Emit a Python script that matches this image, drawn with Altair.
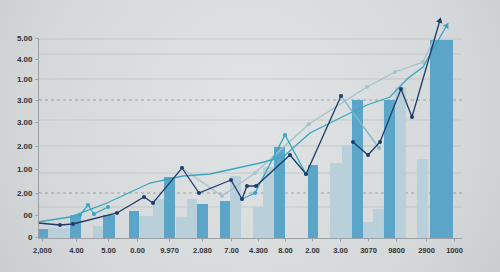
import json
import altair as alt
import pandas as pd

# ---------------- data ----------------
# x unit: 0..100 across the plot, y unit: 0..10
x_tick_pos = [0.94, 8.96, 16.51, 23.35, 30.9, 38.68, 45.52, 51.89, 58.25, 64.62, 71.23, 77.83, 84.43, 91.51, 98.11]
x_tick_lab = ["2,000", "4.00", "5.00", "0.00", "9.970", "2.080", "7.00", "4.300", "8.00", "2.00", "3.00", "3070", "9800", "2900", "1000"]

y_tick_pos = [0.05, 1.15, 2.25, 3.45, 4.6, 5.8, 6.9, 7.95, 8.95, 10.0]
y_tick_lab = ["0", "00", "2.00", "1.00", "2.00", "3.00", "3.00", "1.00", "4.00", "5.00"]

grid_solid = [9.95, 9.2, 7.95, 5.9, 4.6, 3.25, 1.55]
grid_dashed = [6.9, 2.25]

bar_x0 = [0.24, 2.36, 7.55, 12.97, 15.33, 21.46, 23.82, 27.12, 29.72, 32.55, 35.14, 37.5, 42.92, 45.28,
          50.71, 53.07, 55.66, 63.68, 68.87, 71.7, 74.06, 76.65, 79.01, 81.6, 84.2, 89.39, 92.45]
bar_x1 = [2.36, 7.55, 10.14, 15.33, 18.16, 23.82, 27.12, 29.72, 32.31, 35.14, 37.5, 40.09, 45.28, 47.88,
          53.07, 55.66, 58.25, 66.04, 71.7, 74.06, 76.65, 79.01, 81.6, 84.2, 86.79, 91.98, 97.88]
bar_val = [0.45, 0.5, 1.15, 0.6, 1.15, 1.35, 1.1, 1.95, 3.05, 1.05, 1.95, 1.7, 1.85, 3.1,
           1.55, 3.55, 4.55, 3.65, 3.75, 4.65, 6.9, 0.8, 1.45, 6.9, 7.55, 3.95, 9.9]
bar_kind = ["D", "L", "D", "L", "D", "D", "L", "L", "D", "L", "L", "D", "D", "L",
            "L", "L", "D", "D", "L", "L", "D", "L", "L", "D", "L", "L", "D"]

navy_x = [0, 5.19, 8.25, 18.63, 25.0, 27.12, 33.96, 37.97, 45.52, 48.11, 49.29, 51.42, 59.43, 63.21, 71.46,
          74.29, 77.83, 80.66, 85.61, 88.21, 94.81]
navy_y = [0.75, 0.65, 0.7, 1.25, 2.05, 1.75, 3.5, 2.25, 2.9, 1.95, 2.6, 2.6, 4.15, 3.2, 7.1,
          4.8, 4.15, 4.8, 7.45, 6.05, 10.9]
navy_seg = [1] * 15 + [2] * 6

zig_x = [9.91, 11.79, 13.21, 16.51, 48.11, 51.18, 58.25, 63.21]
zig_y = [1.15, 1.65, 1.2, 1.55, 1.95, 2.25, 5.15, 3.2]
zig_seg = [1, 1, 1, 1, 2, 2, 2, 2]

fade_x = [71.46, 80.42]
fade_y = [7.1, 4.5]

gray_x = [33.96, 43.4, 51.18, 63.92, 77.59, 84.2, 90.8, 93.87]
gray_y = [3.5, 2.1, 3.25, 5.7, 7.55, 8.3, 8.8, 10.15]

smooth_x = [0, 7.55, 16.27, 26.42, 34.2, 40.57, 52.36, 57.78, 64.15, 71.23, 77.59, 83.02, 87.03, 90.8, 96.46]
smooth_y = [0.8, 1.05, 1.75, 2.75, 3.1, 3.2, 3.75, 4.05, 5.25, 6.0, 6.65, 7.05, 7.95, 8.55, 10.65]

arrow_series = ["navy", "smooth"]
arrow_angle = [16, 30]

# ---------------- tables ----------------
bars = pd.DataFrame({"x0": bar_x0, "x1": bar_x1, "v": bar_val, "kind": bar_kind})
bars["ord"] = bars["kind"].map({"L": 0, "D": 1})


def series(name, xs, ys, segs=None):
    segs = segs or [1] * len(xs)
    return pd.DataFrame({"s": name, "seg": [f"{name}{g}" for g in segs], "x": xs, "y": ys,
                         "i": range(len(xs))})


lines = pd.concat([
    series("gray", gray_x, gray_y),
    series("fade", fade_x, fade_y),
    series("smooth", smooth_x, smooth_y),
    series("zig", zig_x, zig_y, zig_seg),
    series("navy", navy_x, navy_y, navy_seg),
], ignore_index=True)

markers = lines[(lines["s"] != "smooth")].copy()
markers = markers[~((markers["s"] == "navy") & ((markers["i"] == 0) | (markers["i"] == len(navy_x) - 1)))]
markers = markers[~((markers["s"] == "gray") & (markers["i"] == len(gray_x) - 1))]

ends = {"navy": (navy_x[-1], navy_y[-1]), "smooth": (smooth_x[-1], smooth_y[-1])}
arrows = pd.DataFrame({"s": arrow_series,
                       "x": [ends[s][0] for s in arrow_series],
                       "y": [ends[s][1] for s in arrow_series],
                       "ang": arrow_angle})

grid = pd.DataFrame({"g": grid_solid})
gridd = pd.DataFrame({"g": grid_dashed})

# ---------------- scales / axes ----------------
xs = alt.Scale(domain=[0, 100], nice=False, zero=False)
ys = alt.Scale(domain=[0, 10], nice=False, zero=False)
col_scale = alt.Scale(domain=["navy", "zig", "fade", "gray", "smooth"],
                      range=["#1d3c6c", "#34a6c4", "#86b8c8", "#a4c1cc", "#3aa6c2"])

x_expr = f"{json.dumps(x_tick_lab)}[indexof({json.dumps(x_tick_pos)}, datum.value)]"
y_expr = f"{json.dumps(y_tick_lab)}[indexof({json.dumps(y_tick_pos)}, datum.value)]"

x_axis = alt.Axis(values=x_tick_pos, labelExpr=x_expr, title=None, grid=False, zindex=2,
                  domainColor="#9aa0a4", tickColor="#9aa0a4", tickSize=3,
                  labelPadding=5, labelFontSize=7.5, labelColor="#2e3338",
                  labelFont="Liberation Sans", labelFontWeight="bold")
y_axis = alt.Axis(values=y_tick_pos, labelExpr=y_expr, title=None, grid=False, zindex=2,
                  domainColor="#9aa0a4", tickColor="#9aa0a4", tickSize=3,
                  labelPadding=3, labelFontSize=8, labelColor="#2e3338",
                  labelFont="Liberation Sans", labelFontWeight="bold")

bg = alt.Chart(pd.DataFrame({"a": [0]})).mark_rect(
    color=alt.RadialGradient(
        gradient="radial",
        stops=[alt.GradientStop(color="#e1e4e4", offset=0),
               alt.GradientStop(color="#d6d9da", offset=0.55),
               alt.GradientStop(color="#bfc3c5", offset=1)],
        x1=0.5, y1=0.45, r1=0, x2=0.5, y2=0.45, r2=0.75),
    clip=False,
).encode(x=alt.value(-38), x2=alt.value(462), y=alt.value(-38), y2=alt.value(234))

gl = alt.Chart(grid).mark_rule(color="#b6bbbe", strokeWidth=0.8, opacity=0.8).encode(
    y=alt.Y("g:Q", scale=ys, axis=y_axis))
gd = alt.Chart(gridd).mark_rule(color="#8d9397", strokeWidth=0.8, strokeDash=[3, 3]).encode(
    y=alt.Y("g:Q", scale=ys, axis=y_axis))

bar_layer = alt.Chart(bars).mark_rect().encode(
    x=alt.X("x0:Q", scale=xs, axis=x_axis),
    x2="x1:Q",
    y=alt.Y("v:Q", scale=ys, axis=y_axis),
    y2=alt.datum(0),
    fill=alt.Fill("kind:N", scale=alt.Scale(domain=["D", "L"], range=["#5ba5c9", "#b9d0da"]),
                  legend=None),
    order="ord:Q",
)

line_layer = alt.Chart(lines).mark_line(strokeWidth=1.3, clip=False).encode(
    x=alt.X("x:Q", scale=xs, axis=x_axis),
    y=alt.Y("y:Q", scale=ys, axis=y_axis),
    color=alt.Color("s:N", scale=col_scale, legend=None),
    detail="seg:N",
    order="i:Q",
)

pt_layer = alt.Chart(markers).mark_point(filled=True, size=16, opacity=1, clip=False).encode(
    x=alt.X("x:Q", scale=xs, axis=x_axis),
    y=alt.Y("y:Q", scale=ys, axis=y_axis),
    color=alt.Color("s:N", scale=col_scale, legend=None),
)

arrow_layer = alt.Chart(arrows).mark_point(shape="triangle-up", filled=True, size=40, opacity=1,
                                           clip=False).encode(
    x=alt.X("x:Q", scale=xs, axis=x_axis),
    y=alt.Y("y:Q", scale=ys, axis=y_axis),
    color=alt.Color("s:N", scale=col_scale, legend=None),
    angle=alt.Angle("ang:Q", scale=None),
)

chart = alt.layer(bg, gl, gd, bar_layer, line_layer, pt_layer, arrow_layer).properties(
    width=424, height=200,
    autosize=alt.AutoSizeParams(type="none"),
    padding={"left": 38, "top": 38, "right": 38, "bottom": 34},
    background="#cfd3d4",
).configure_view(stroke=None)

chart.save("out.html", embed_options={"renderer": "svg", "actions": False})
